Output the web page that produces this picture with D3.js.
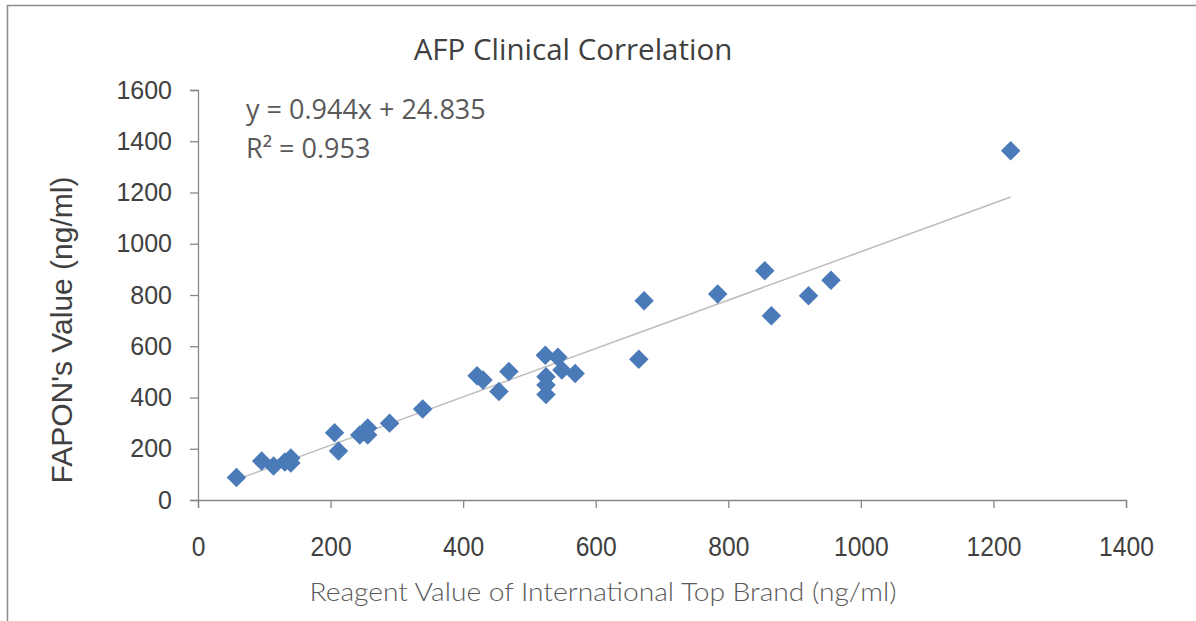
<!DOCTYPE html>
<html>
<head>
<meta charset="utf-8">
<script src="https://cdn.jsdelivr.net/npm/d3@7"></script>
<style>
  body { margin: 0; background: #fff; }
  svg { display: block; }
</style>
</head>
<body>
<div id="chart"></div>
<script>
var svgWidth = 1196;
var svgHeight = 621;

// reagent values (x) and FAPON values (y)
var reagentValues = [58, 96, 114, 131, 140, 140, 206, 212, 244, 256, 256, 289, 339,
  421, 430, 469, 454, 524, 543, 525, 525, 525, 549, 569,
  665, 673, 784, 855, 865, 921, 955, 1226];
var faponValues = [88, 152, 133, 148, 164, 144, 262, 191, 254, 281, 254, 300, 355,
  485, 468, 501, 423, 565, 557, 481, 449, 412, 507, 494,
  549, 778, 804, 895, 719, 797, 858, 1363];

var xTicks = [0, 200, 400, 600, 800, 1000, 1200, 1400];
var yTicks = [0, 200, 400, 600, 800, 1000, 1200, 1400, 1600];

var slope = 0.944;
var intercept = 24.835;

var points = reagentValues.map((x, i) => ({x: x, y: faponValues[i]}));

var svg = d3.select("#chart")
  .append("svg")
  .attr("width", svgWidth)
  .attr("height", svgHeight);

// outer frame (right and bottom edges fall outside the picture)
svg.append("rect")
  .attr("x", 7.5)
  .attr("y", 5.5)
  .attr("width", 1300)
  .attr("height", 700)
  .attr("fill", "none")
  .attr("stroke", "#8c8c8c")
  .attr("stroke-width", 1.5);

var xScale = d3.scaleLinear().domain([0, 1400]).range([198, 1126]);
var yScale = d3.scaleLinear().domain([0, 1600]).range([500, 90]);

// y axis
var yAxis = svg.append("g")
  .attr("transform", "translate(198,0)")
  .call(d3.axisLeft(yScale).tickValues(yTicks).tickSize(8).tickPadding(18).tickFormat(d3.format("d")));
yAxis.selectAll("line, path").attr("stroke", "#878787").attr("stroke-width", 1.3);
yAxis.selectAll("text")
  .attr("fill", "#404040")
  .style("font-family", "'Liberation Sans', Arial, sans-serif")
  .style("font-size", "25px");

// x axis (labels a little squeezed, as in the original)
var xAxis = svg.append("g")
  .attr("transform", "translate(0,500)")
  .call(d3.axisBottom(xScale).tickValues(xTicks).tickSize(8).tickPadding(28).tickFormat(d3.format("d")));
xAxis.selectAll("line, path").attr("stroke", "#878787").attr("stroke-width", 1.3);
xAxis.selectAll("text")
  .attr("fill", "#404040")
  .attr("transform", "scale(0.88,1)")
  .style("font-family", "'Liberation Sans', Arial, sans-serif")
  .style("font-size", "28px");

// trendline
var xExt = d3.extent(reagentValues);
svg.append("line")
  .attr("x1", xScale(xExt[0]))
  .attr("y1", yScale(slope * xExt[0] + intercept))
  .attr("x2", xScale(xExt[1]))
  .attr("y2", yScale(slope * xExt[1] + intercept))
  .attr("stroke", "#bcbcbc")
  .attr("stroke-width", 1.5);

// diamonds
var diamond = d3.symbol().type(d3.symbolSquare).size(190);
svg.selectAll("path.pt")
  .data(points)
  .enter()
  .append("path")
  .attr("class", "pt")
  .attr("d", diamond)
  .attr("transform", d => `translate(${xScale(d.x)},${yScale(d.y)}) rotate(45)`)
  .attr("fill", "#4a7ab7");

// title
svg.append("text")
  .attr("x", 573)
  .attr("y", 60)
  .attr("text-anchor", "middle")
  .attr("fill", "#404040")
  .style("font-family", "'Open Sans', sans-serif")
  .style("font-size", "29.5px")
  .text("AFP Clinical Correlation");

// equation
svg.append("text")
  .attr("x", 246)
  .attr("y", 119)
  .attr("fill", "#595959")
  .style("font-family", "'Open Sans', sans-serif")
  .style("font-size", "27px")
  .text("y = " + slope + "x + " + intercept);
svg.append("text")
  .attr("x", 246)
  .attr("y", 158)
  .attr("fill", "#595959")
  .style("font-family", "'Open Sans', sans-serif")
  .style("font-size", "27px")
  .text("R² = 0.953");

// axis titles
svg.append("text")
  .attr("transform", "translate(72,330) rotate(-90)")
  .attr("text-anchor", "middle")
  .attr("fill", "#404040")
  .style("font-family", "'Liberation Sans', Arial, sans-serif")
  .style("font-size", "30px")
  .text("FAPON's Value (ng/ml)");

svg.append("text")
  .attr("x", 603)
  .attr("y", 601)
  .attr("text-anchor", "middle")
  .attr("fill", "#595959")
  .attr("textLength", 587)
  .attr("lengthAdjust", "spacingAndGlyphs")
  .style("font-family", "Lato, sans-serif")
  .style("font-weight", 300)
  .style("font-size", "26px")
  .text("Reagent Value of International Top Brand (ng/ml)");
</script>
</body>
</html>
